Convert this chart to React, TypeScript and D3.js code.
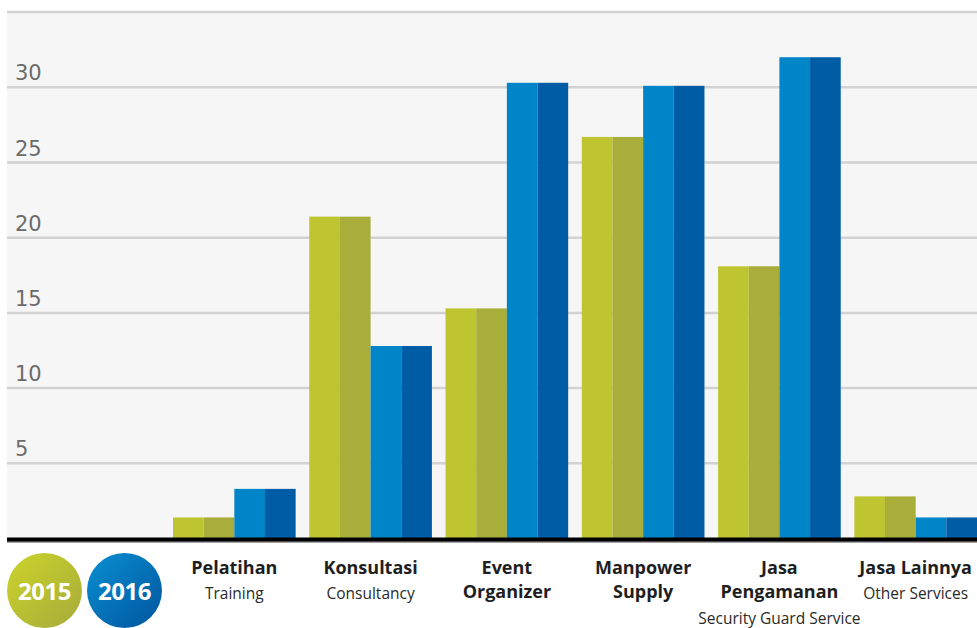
import React from 'react';
import * as d3 from 'd3';

// chart data
const categories = ['Pelatihan', 'Konsultasi', 'Event Organizer', 'Manpower Supply', 'Jasa Pengamanan', 'Jasa Lainnya'];
const titleLines = [['Pelatihan'], ['Konsultasi'], ['Event', 'Organizer'], ['Manpower', 'Supply'], ['Jasa', 'Pengamanan'], ['Jasa Lainnya']];
const subLabels = ['Training', 'Consultancy', '', '', 'Security Guard Service', 'Other Services'];
const values2015 = [1.4, 21.4, 15.3, 26.7, 18.1, 2.8];
const values2016 = [3.3, 12.8, 30.3, 30.1, 32.0, 1.4];
const years = ['2015', '2016'];
const tickLabels = [5, 10, 15, 20, 25, 30];
const gridValues = [5, 10, 15, 20, 25, 30, 35];

const yearColors = {
  '2015': { light: '#bec530', dark: '#a9ad3a', g0: '#ccd42a', g1: '#a6ab3b' },
  '2016': { light: '#0085c8', dark: '#005ca5', g0: '#0a8fd2', g1: '#00559d' },
};

const W = 977;
const H = 628;
const plot = { left: 7, right: 977, top: 11, bottom: 538.5 };

export default function App() {
  const x = d3.scaleBand().domain(categories).range([173, 977]).paddingInner(0.1).paddingOuter(0);
  const xYear = d3.scaleBand().domain(years).range([0, x.bandwidth()]);
  const y = d3.scaleLinear().domain([0, 35]).range([plot.bottom, plot.bottom - 35 * 15.04]);

  const series = [values2015, values2016];
  const font = "'Open Sans', 'Noto Sans', sans-serif";

  return (
    <div style={{ position: 'absolute', left: 0, top: 0 }}>
      <svg width={W} height={H} style={{ display: 'block', background: '#fff' }}>
        <defs>
          {years.map((yr) => (
            <linearGradient key={yr} id={`grad${yr}`} x1="0" y1="0" x2="1" y2="1">
              <stop offset="0%" stopColor={yearColors[yr].g0} />
              <stop offset="100%" stopColor={yearColors[yr].g1} />
            </linearGradient>
          ))}
        </defs>

        {/* plot background */}
        <rect x={plot.left} y={y(35)} width={plot.right - plot.left} height={plot.bottom - y(35)} fill="#f6f6f6" />

        {/* gridlines */}
        {gridValues.map((v) => (
          <line key={v} x1={plot.left} x2={plot.right} y1={y(v)} y2={y(v)} stroke="#d2d2d2" strokeWidth={2.5} />
        ))}

        {/* tick labels */}
        {tickLabels.map((v) => (
          <text key={v} x={15} y={y(v) - 7} fill="#6b6b6b" fontSize={21} fontFamily="'DejaVu Sans', sans-serif">
            {v}
          </text>
        ))}

        {/* bars, each year drawn as two halves */}
        {categories.map((c, i) => (
          <g key={c} transform={`translate(${x(c)},0)`}>
            {years.map((yr, j) => {
              const v = series[j][i];
              const bx = xYear(yr);
              const bw = xYear.bandwidth();
              const top = y(v);
              return (
                <g key={yr}>
                  <rect x={bx} y={top} width={bw / 2} height={plot.bottom - top} fill={yearColors[yr].light} />
                  <rect x={bx + bw / 2} y={top} width={bw / 2} height={plot.bottom - top} fill={yearColors[yr].dark} />
                </g>
              );
            })}
          </g>
        ))}

        {/* baseline */}
        <rect x={plot.left} y={plot.bottom - 1} width={plot.right - plot.left} height={3.5} fill="#000" />
        <rect x={plot.left} y={plot.bottom + 2.5} width={plot.right - plot.left} height={1.5} fill="#4a4a4a" />

        {/* category labels */}
        {categories.map((c, i) => {
          const cx = x(c) + x.bandwidth() / 2;
          const lines = titleLines[i];
          return (
            <g key={c} fontFamily={font} textAnchor="middle">
              {lines.map((t, k) => (
                <text key={t} x={cx} y={574 + k * 24} fontSize={18} fontWeight="bold" fill="#1e1e1e">
                  {t}
                </text>
              ))}
              {subLabels[i] && (
                <text x={cx} y={574 + lines.length * 25} fontSize={15.5} fill="#2a2a2a">
                  {subLabels[i]}
                </text>
              )}
            </g>
          );
        })}

        {/* legend circles */}
        {years.map((yr, j) => (
          <g key={yr} transform={`translate(${44.5 + j * 80},590.5)`}>
            <circle r={37.5} fill={`url(#grad${yr})`} />
            <text y={9} textAnchor="middle" fill="#fff" fontSize={24} fontWeight="bold" fontFamily={font} letterSpacing={-0.5}>
              {yr}
            </text>
          </g>
        ))}
      </svg>
    </div>
  );
}
